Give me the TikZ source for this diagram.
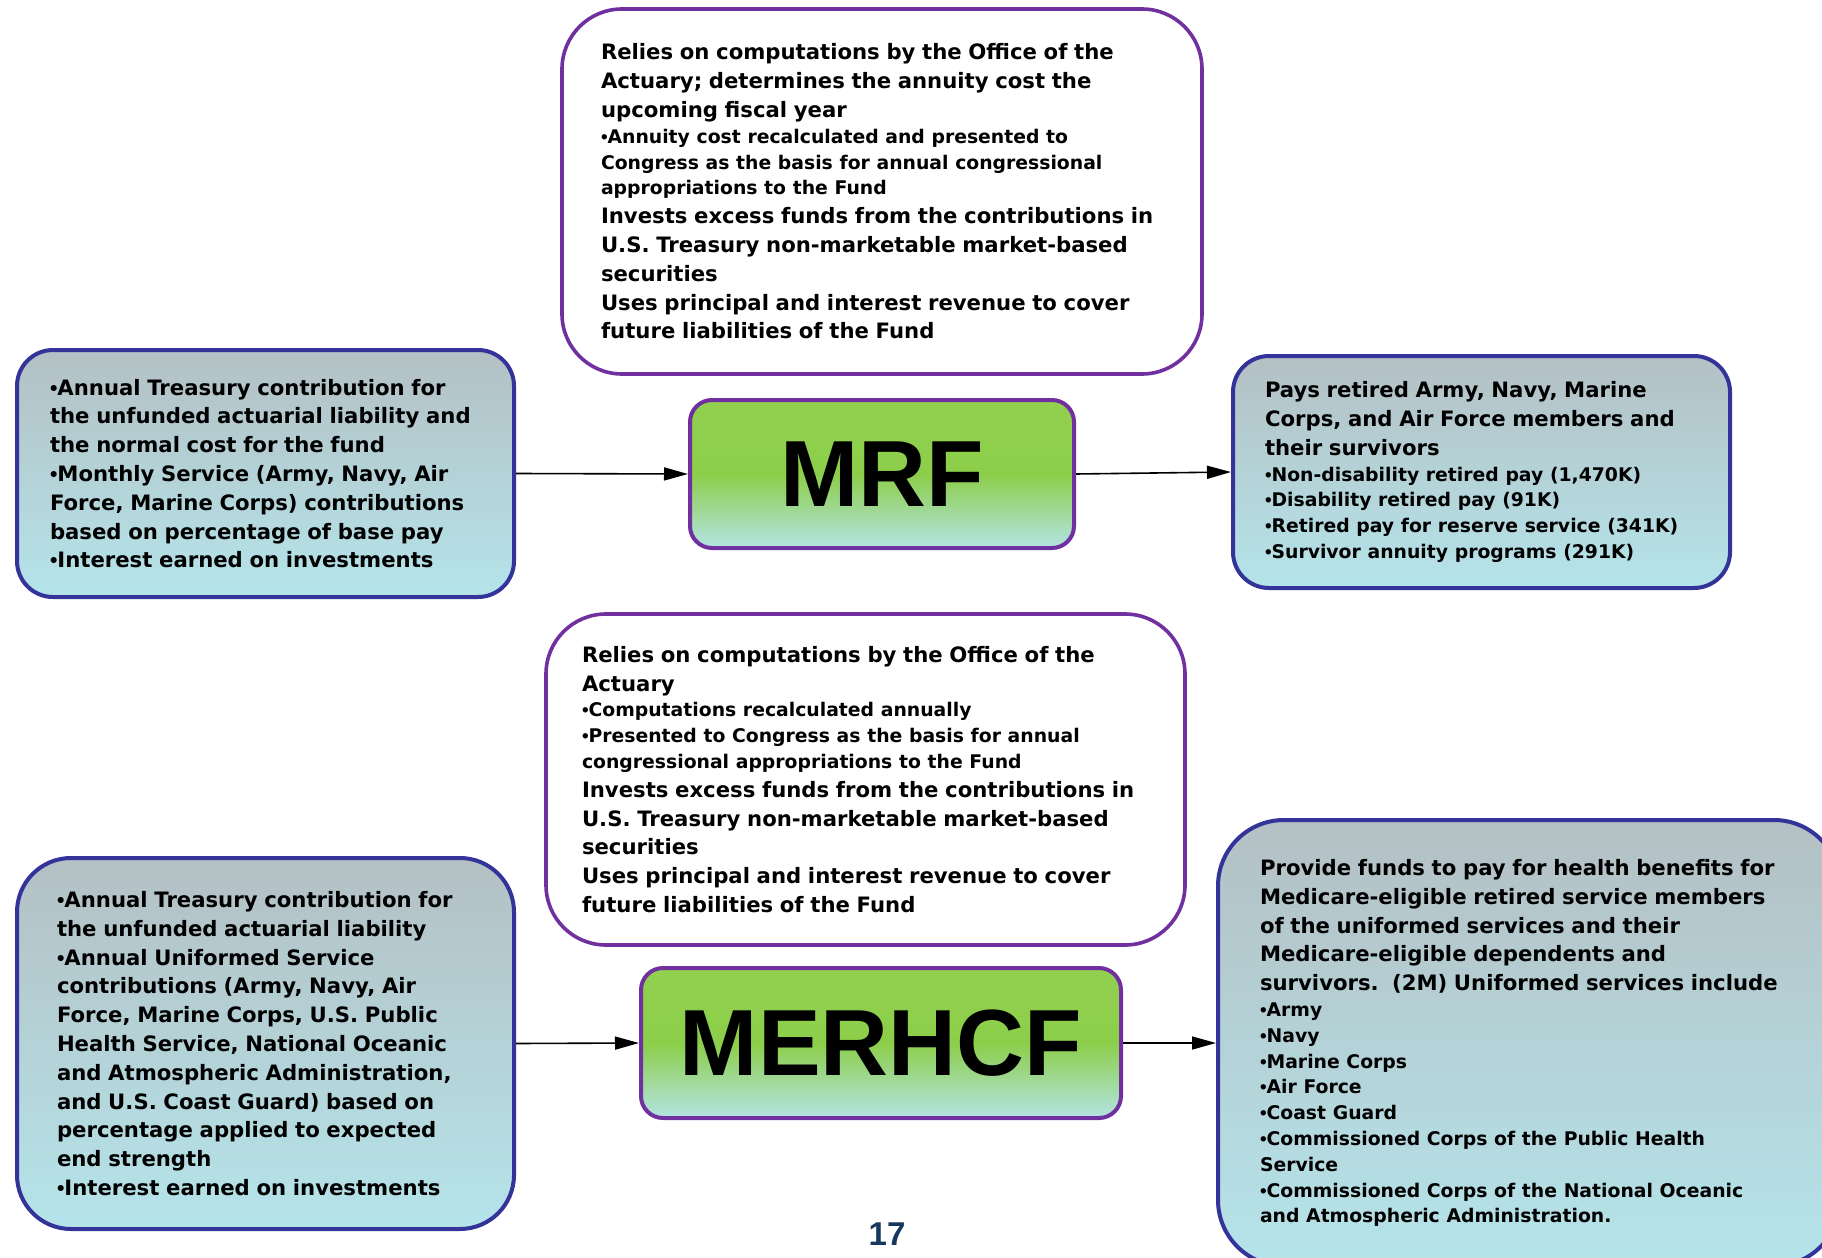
\documentclass[tikz,border=0pt]{standalone}
\usepackage{fontspec}
\setmainfont{DejaVu Sans}
\newfontfamily\titlefont{Liberation Sans}
\usetikzlibrary{arrows.meta}
\definecolor{boxblue}{RGB}{51,51,153}
\definecolor{boxpurple}{RGB}{112,48,160}
\definecolor{fundgreen}{RGB}{146,208,80}
\definecolor{fundgreenb}{RGB}{140,206,74}
\definecolor{palecyan}{RGB}{180,228,228}
\definecolor{bluetop}{RGB}{180,192,196}
\definecolor{bluebot}{RGB}{180,228,234}
\definecolor{pagenum}{RGB}{23,55,94}
\newcommand\bigtxt{\fontsize{10.6}{14.4}\selectfont}
\newcommand\smalltxt{\fontsize{9.4}{12.9}\selectfont}
\newcommand\bul{{\titlefont\textbullet}}
\tikzset{
  infobox/.style={draw=boxblue, line width=2pt, top color=bluetop, bottom color=bluebot,
    align=left, font=\bfseries, inner ysep=0pt},
  notebox/.style={draw=boxpurple, line width=1.8pt, fill=white, align=left,
    font=\bfseries, inner ysep=0pt, rounded corners=30pt},
  fundbox/.style={draw=boxpurple, line width=2pt, top color=fundgreen, bottom color=palecyan,
    middle color=fundgreenb, rounded corners=11pt, inner sep=0pt,
    font=\titlefont\bfseries\fontsize{47}{50}\selectfont},
  flow/.style={-{Triangle[length=12pt,width=6.5pt]}, line width=0.8pt},
}
\begin{document}
\begin{tikzpicture}[x=0.5pt, y=-0.5pt, line join=round]
  \useasboundingbox (0,0) rectangle (1822,1258);
  % --- MRF ---
  \node[notebox, minimum width=320pt, minimum height=182.5pt, inner xsep=19.5pt, text width=281pt]
    (mrfnote) at (882,191.5) {%
    {\bigtxt Relies on computations by the Office of the\\ Actuary; determines the annuity cost the\\ upcoming fiscal year\par}
    {\smalltxt \bul Annuity cost recalculated and presented to\\ Congress as the basis for annual congressional\\ appropriations to the Fund\par}
    {\bigtxt Invests excess funds from the contributions in\\ U.S. Treasury non-marketable market-based\\ securities\\ Uses principal and interest revenue to cover\\ future liabilities of the Fund\par}};
  \node[fundbox, minimum width=192pt, minimum height=74pt] (mrf) at (882,474) {MRF};
  \node[infobox, rounded corners=18pt, minimum width=248.5pt, minimum height=123.5pt,
    inner xsep=16.5pt, text width=215.5pt] (mrfin) at (265.5,473.5) {%
    {\bigtxt \bul Annual Treasury contribution for\\ the unfunded actuarial liability and\\ the normal cost for the fund\\
    \bul Monthly Service (Army, Navy, Air\\ Force, Marine Corps) contributions\\ based on percentage of base pay\\
    \bul Interest earned on investments\par}};
  \node[infobox, rounded corners=18pt, minimum width=248.5pt, minimum height=116pt,
    inner xsep=16pt, text width=216.5pt] (mrfout) at (1481.5,472) {%
    {\bigtxt Pays retired Army, Navy, Marine\\ Corps, and Air Force members and\\ their survivors\par}
    {\smalltxt \bul Non-disability retired pay (1,470K)\\ \bul Disability retired pay (91K)\\
    \bul Retired pay for reserve service (341K)\\ \bul Survivor annuity programs (291K)\par}};
  % 矢印
  \draw[flow] (mrfin.east) -- (mrf.west);
  \draw[flow] (mrf.east) -- (mrfout.west);
  % --- MERHCF ---
  \node[notebox, minimum width=319.5pt, minimum height=165.5pt, inner xsep=18pt, text width=283.5pt]
    (merhcfnote) at (865.5,779.5) {%
    {\bigtxt Relies on computations by the Office of the\\ Actuary\par}
    {\smalltxt \bul Computations recalculated annually\\ \bul Presented to Congress as the basis for annual\\ congressional appropriations to the Fund\par}
    {\bigtxt Invests excess funds from the contributions in\\ U.S. Treasury non-marketable market-based\\ securities\\ Uses principal and interest revenue to cover\\ future liabilities of the Fund\par}};
  \node[fundbox, minimum width=240pt, minimum height=75pt] (merhcf) at (881,1043) {MERHCF};
  \node[infobox, rounded corners=27pt, minimum width=248.5pt, minimum height=185.5pt,
    inner xsep=20pt, text width=208.5pt] (merhcfin) at (265.5,1043.5) {%
    {\bigtxt \bul Annual Treasury contribution for\\ the unfunded actuarial liability\\
    \bul Annual Uniformed Service\\ contributions (Army, Navy, Air\\ Force, Marine Corps, U.S. Public\\
    Health Service, National Oceanic\\ and Atmospheric Administration,\\ and U.S. Coast Guard) based on\\
    percentage applied to expected\\ end strength\\ \bul Interest earned on investments\par}};
  \node[infobox, rounded corners=33pt, minimum width=311pt, minimum height=223pt,
    inner xsep=21pt, text width=269pt] (merhcfout) at (1529,1043) {%
    {\bigtxt Provide funds to pay for health benefits for\\ Medicare-eligible retired service members\\
    of the uniformed services and their\\ Medicare-eligible dependents and\\ survivors.\ \ (2M) Uniformed services include\par}
    {\smalltxt \bul Army\\ \bul Navy\\ \bul Marine Corps\\ \bul Air Force\\ \bul Coast Guard\\
    \bul Commissioned Corps of the Public Health\\ Service\\
    \bul Commissioned Corps of the National Oceanic\\ and Atmospheric Administration.\par}};
  % 矢印
  \draw[flow] (merhcfin.east) -- (merhcf.west);
  \draw[flow] (merhcf.east) -- (merhcfout.west);
  % ページ番号
  \node[text=pagenum, font=\titlefont\bfseries\fontsize{16.5}{18}\selectfont] (pgno) at (887,1234) {17};
\end{tikzpicture}
\end{document}
